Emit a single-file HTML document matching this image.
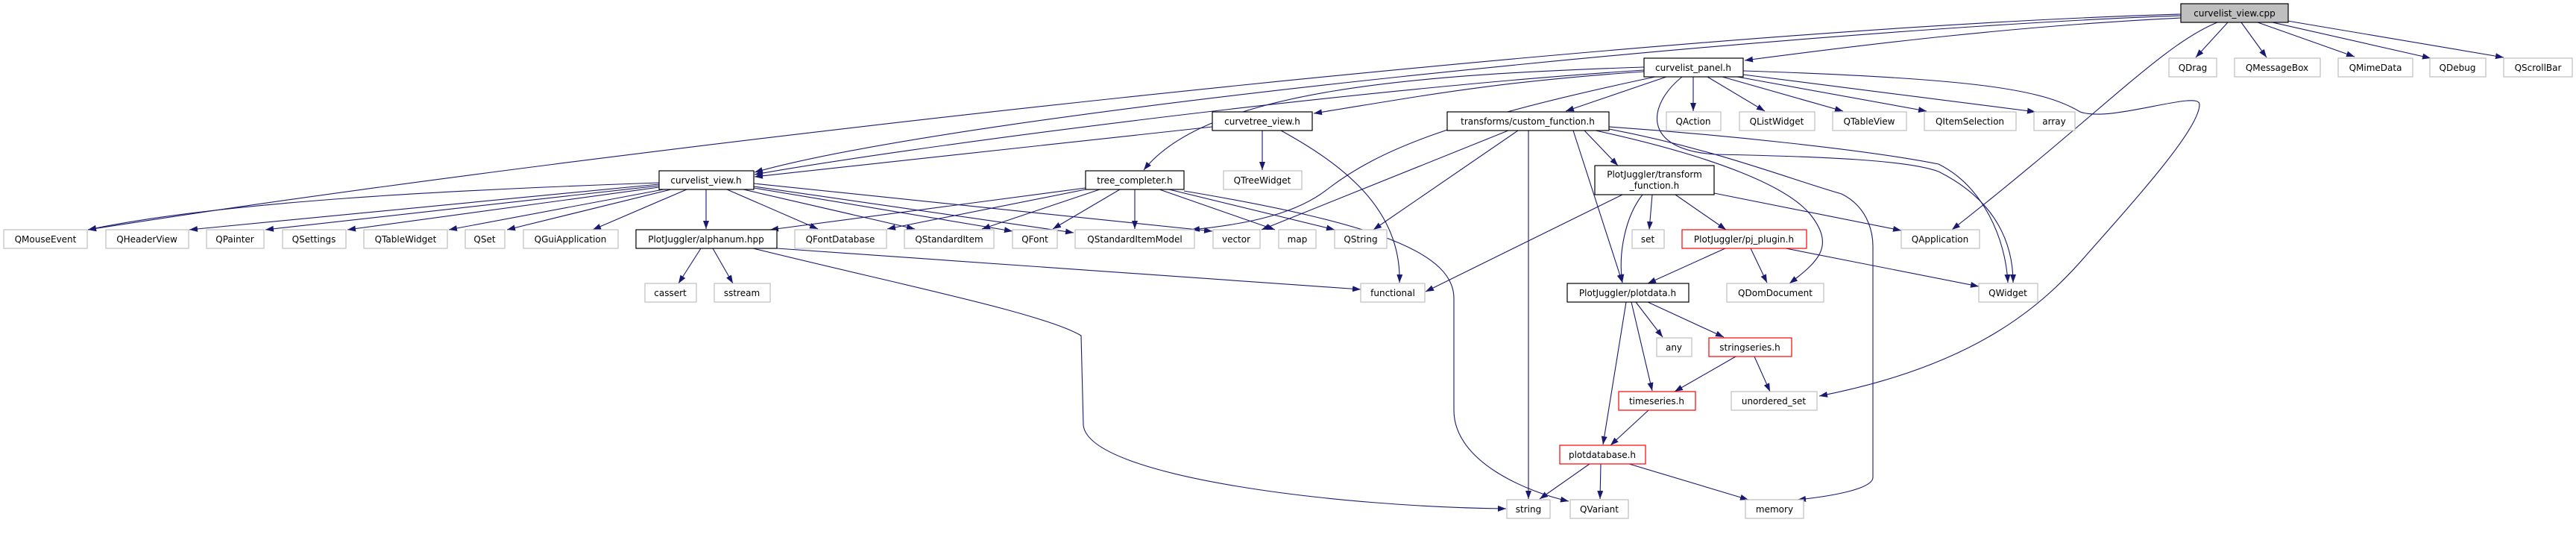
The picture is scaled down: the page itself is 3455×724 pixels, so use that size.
<!DOCTYPE html>
<html><head><meta charset="utf-8"><style>
html,body{margin:0;padding:0;background:#fff;}
svg{display:block;}
text{font-family:"DejaVu Sans","Liberation Sans",sans-serif;font-size:12px;fill:#000;}
.e{fill:none;stroke:#191970;stroke-width:1.1;marker-end:url(#a);}
.g{fill:#fff;stroke:#bfbfbf;stroke-width:1.2;}
.b{fill:#fff;stroke:#000;stroke-width:1.2;}
.r{fill:#fff;stroke:#ff0000;stroke-width:1.2;}
.c{fill:#bfbfbf;stroke:#000;stroke-width:1.2;}
</style></head><body>
<svg width="3455" height="724" viewBox="0 0 3455 724" xmlns="http://www.w3.org/2000/svg">
<defs><marker id="a" markerUnits="userSpaceOnUse" markerWidth="12" markerHeight="10" refX="11" refY="4" orient="auto"><path d="M0,0 L11,4 L0,8 z" fill="#191970"/></marker></defs>
<g>
<!-- cpp edges -->
<path class="e" d="M2925,24 C2700,35 2500,60 2340,81"/>
<path class="e" d="M2925,21 C2400,40 1300,150 1012,231"/>
<path class="e" d="M2925,19 C2200,40 800,200 118,308"/>
<path class="e" d="M2974,30 C2900,60 2820,150 2618,308"/>
<path class="e" d="M2988,30 L2945,77"/>
<path class="e" d="M3006,30 L3040,77"/>
<path class="e" d="M3028,30 L3158,76"/>
<path class="e" d="M3048,30 L3260,78"/>
<path class="e" d="M3068,28 L3358,77"/>
<!-- panel edges -->
<path class="e" d="M2205,96 C2000,110 1900,130 1762,152"/>
<path class="e" d="M2205,94 C1800,120 1200,200 1012,234"/>
<path class="e" d="M2205,90 C1900,100 1620,120 1534,228"/>
<path class="e" d="M2235,103 L2100,149"/>
<path class="e" d="M2220,103 C1950,160 1850,200 1780,254 C1740,285 1680,300 1598,308"/>
<path class="e" d="M2271,103 L2271,149"/>
<path class="e" d="M2290,103 L2367,149"/>
<path class="e" d="M2310,103 L2472,149"/>
<path class="e" d="M2330,103 L2584,149"/>
<path class="e" d="M2338,100 L2730,150"/>
<path class="e" d="M2256,103 C2210,140 2200,200 2300,207 C2450,210 2560,215 2600,230 C2680,270 2700,330 2700,379"/>
<path class="e" d="M2338,95 C2650,105 2740,120 2790,150 C2830,165 2950,120 2950,140 C2950,170 2880,250 2800,340 C2740,410 2650,490 2440,531"/>
<!-- curvetree -->
<path class="e" d="M1626,170 L1012,237"/>
<path class="e" d="M1693,175 L1693,228"/>
<path class="e" d="M1718,175 C1800,220 1880,280 1877,379"/>
<!-- curvelist_view.h -->
<path class="e" d="M884,245 C600,255 300,270 118,308"/>
<path class="e" d="M884,247 L254,308"/>
<path class="e" d="M884,249 L356,308"/>
<path class="e" d="M884,251 L466,308"/>
<path class="e" d="M890,254 L602,308"/>
<path class="e" d="M900,254 L680,308"/>
<path class="e" d="M921,254 L795,308"/>
<path class="e" d="M947,254 L947,307"/>
<path class="e" d="M975,254 L1097,307"/>
<path class="e" d="M997,254 L1227,307"/>
<path class="e" d="M1011,252 L1358,310"/>
<path class="e" d="M1011,246 L1626,310"/>
<path class="e" d="M1011,250 L1440,312"/>
<!-- tree_completer -->
<path class="e" d="M1456,252 L1033,308"/>
<path class="e" d="M1456,254 L1190,307"/>
<path class="e" d="M1475,254 L1317,307"/>
<path class="e" d="M1502,254 L1412,307"/>
<path class="e" d="M1522,254 L1522,307"/>
<path class="e" d="M1555,254 L1710,308"/>
<path class="e" d="M1568,254 L1790,308"/>
<path class="e" d="M1588,256 C1850,300 1950,340 1950,400 L1950,550 C1950,620 2050,660 2104,672"/>
<!-- alphanum -->
<path class="e" d="M940,333 L910,380"/>
<path class="e" d="M956,333 L983,380"/>
<path class="e" d="M1042,333 L1825,388"/>
<path class="e" d="M1010,333 C1200,380 1400,420 1450,450 L1453,570 C1460,640 1800,680 2020,682"/>
<!-- custom_fn -->
<path class="e" d="M2125,175 L2170,222"/>
<path class="e" d="M2110,175 L2176,379"/>
<path class="e" d="M2050,175 L2050,669"/>
<path class="e" d="M2023,175 L1692,308"/>
<path class="e" d="M2036,175 L1842,308"/>
<path class="e" d="M2140,175 C2300,210 2400,250 2430,290 C2460,330 2440,350 2400,380"/>
<path class="e" d="M2158,170 C2300,180 2500,200 2600,220 C2660,250 2690,320 2693,379"/>
<path class="e" d="M2158,173 C2300,200 2400,240 2470,260 C2510,280 2512,320 2512,330 L2512,640 C2512,655 2460,665 2411,670"/>
<!-- transform_fn -->
<path class="e" d="M2176,261 L1912,391"/>
<path class="e" d="M2216,261 L2212,308"/>
<path class="e" d="M2247,261 L2315,308"/>
<path class="e" d="M2203,261 C2180,290 2170,340 2176,379"/>
<path class="e" d="M2299,259 L2550,309"/>
<!-- pj_plugin -->
<path class="e" d="M2314,333 L2210,380"/>
<path class="e" d="M2348,333 L2370,379"/>
<path class="e" d="M2395,333 L2654,384"/>
<!-- plotdata -->
<path class="e" d="M2194,405 L2230,452"/>
<path class="e" d="M2210,405 L2312,452"/>
<path class="e" d="M2188,405 L2216,524"/>
<path class="e" d="M2181,405 L2150,596"/>
<path class="e" d="M2328,478 L2246,525"/>
<path class="e" d="M2353,478 L2374,525"/>
<path class="e" d="M2211,550 L2160,597"/>
<path class="e" d="M2132,622 L2065,669"/>
<path class="e" d="M2147,622 L2146,669"/>
<path class="e" d="M2185,622 L2345,670"/>
</g>
<g text-anchor="middle">
<rect class="c" x="2925" y="5" width="144" height="25"/><text x="2997" y="22">curvelist_view.cpp</text>
<rect class="b" x="2205" y="78" width="133" height="25"/><text x="2271" y="95">curvelist_panel.h</text>
<rect class="g" x="2909" y="78" width="64" height="25"/><text x="2941" y="95">QDrag</text>
<rect class="g" x="2997" y="78" width="115" height="25"/><text x="3054" y="95">QMessageBox</text>
<rect class="g" x="3136" y="78" width="100" height="25"/><text x="3186" y="95">QMimeData</text>
<rect class="g" x="3259" y="78" width="75" height="25"/><text x="3296" y="95">QDebug</text>
<rect class="g" x="3358" y="78" width="92" height="25"/><text x="3404" y="95">QScrollBar</text>

<rect class="b" x="1626" y="150" width="134" height="25"/><text x="1693" y="167">curvetree_view.h</text>
<rect class="b" x="1941" y="150" width="217" height="25"/><text x="2049" y="167">transforms/custom_function.h</text>
<rect class="g" x="2235" y="150" width="73" height="25"/><text x="2271" y="167">QAction</text>
<rect class="g" x="2333" y="150" width="101" height="25"/><text x="2383" y="167">QListWidget</text>
<rect class="g" x="2458" y="150" width="99" height="25"/><text x="2507" y="167">QTableView</text>
<rect class="g" x="2581" y="150" width="123" height="25"/><text x="2642" y="167">QItemSelection</text>
<rect class="g" x="2728" y="150" width="55" height="25"/><text x="2755" y="167">array</text>

<rect class="b" x="884" y="229" width="127" height="25"/><text x="947" y="246">curvelist_view.h</text>
<rect class="b" x="1456" y="229" width="132" height="25"/><text x="1522" y="246">tree_completer.h</text>
<rect class="g" x="1641" y="229" width="105" height="25"/><text x="1693" y="246">QTreeWidget</text>
<rect class="b" x="2139" y="222" width="160" height="39"/><text x="2219" y="238">PlotJuggler/transform</text><text x="2219" y="253">_function.h</text>

<rect class="g" x="5" y="308" width="112" height="25"/><text x="61" y="325">QMouseEvent</text>
<rect class="g" x="142" y="308" width="111" height="25"/><text x="197" y="325">QHeaderView</text>
<rect class="g" x="277" y="308" width="77" height="25"/><text x="315" y="325">QPainter</text>
<rect class="g" x="379" y="308" width="85" height="25"/><text x="421" y="325">QSettings</text>
<rect class="g" x="488" y="308" width="112" height="25"/><text x="544" y="325">QTableWidget</text>
<rect class="g" x="624" y="308" width="53" height="25"/><text x="650" y="325">QSet</text>
<rect class="g" x="702" y="308" width="127" height="25"/><text x="765" y="325">QGuiApplication</text>
<rect class="b" x="853" y="308" width="189" height="25"/><text x="947" y="325">PlotJuggler/alphanum.hpp</text>
<rect class="g" x="1066" y="308" width="123" height="25"/><text x="1127" y="325">QFontDatabase</text>
<rect class="g" x="1213" y="308" width="120" height="25"/><text x="1273" y="325">QStandardItem</text>
<rect class="g" x="1358" y="308" width="60" height="25"/><text x="1388" y="325">QFont</text>
<rect class="g" x="1442" y="308" width="160" height="25"/><text x="1522" y="325">QStandardItemModel</text>
<rect class="g" x="1627" y="308" width="63" height="25"/><text x="1658" y="325">vector</text>
<rect class="g" x="1715" y="308" width="50" height="25"/><text x="1740" y="325">map</text>
<rect class="g" x="1790" y="308" width="70" height="25"/><text x="1825" y="325">QString</text>
<rect class="g" x="2189" y="308" width="43" height="25"/><text x="2210" y="325">set</text>
<rect class="r" x="2256" y="308" width="167" height="25"/><text x="2339" y="325">PlotJuggler/pj_plugin.h</text>
<rect class="g" x="2550" y="308" width="105" height="25"/><text x="2602" y="325">QApplication</text>

<rect class="g" x="865" y="380" width="69" height="25"/><text x="899" y="397">cassert</text>
<rect class="g" x="958" y="380" width="75" height="25"/><text x="995" y="397">sstream</text>
<rect class="g" x="1825" y="380" width="86" height="25"/><text x="1868" y="397">functional</text>
<rect class="b" x="2102" y="380" width="163" height="25"/><text x="2183" y="397">PlotJuggler/plotdata.h</text>
<rect class="g" x="2316" y="380" width="130" height="25"/><text x="2381" y="397">QDomDocument</text>
<rect class="g" x="2654" y="380" width="79" height="25"/><text x="2693" y="397">QWidget</text>

<rect class="g" x="2222" y="453" width="47" height="25"/><text x="2245" y="470">any</text>
<rect class="r" x="2292" y="453" width="111" height="25"/><text x="2347" y="470">stringseries.h</text>
<rect class="r" x="2171" y="525" width="103" height="25"/><text x="2222" y="542">timeseries.h</text>
<rect class="g" x="2322" y="525" width="115" height="25"/><text x="2379" y="542">unordered_set</text>
<rect class="r" x="2092" y="597" width="115" height="25"/><text x="2149" y="614">plotdatabase.h</text>
<rect class="g" x="2021" y="670" width="58" height="25"/><text x="2050" y="687">string</text>
<rect class="g" x="2106" y="670" width="78" height="25"/><text x="2145" y="687">QVariant</text>
<rect class="g" x="2341" y="670" width="78" height="25"/><text x="2380" y="687">memory</text>
</g>
</svg>
</body></html>
